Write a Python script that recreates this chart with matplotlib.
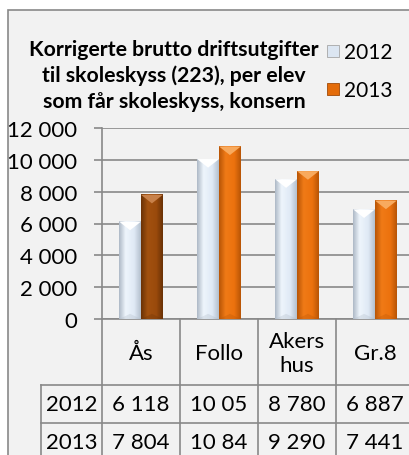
#! /usr/bin/env python3

"""Corrected gross running costs for school transport per pupil."""

import matplotlib.pyplot as plt
import numpy as np
from matplotlib.colors import LinearSegmentedColormap
from matplotlib.patches import Rectangle, Polygon

# Data
regions = ['Ås', 'Follo', 'Akers\nhus', 'Gr.8']
years = ['2012', '2013']
costs_2012 = [6118, 10050, 8780, 6887]
costs_2013 = [7804, 10840, 9290, 7441]
table_2012 = ['6 118', '10 05', '8 780', '6 887']
table_2013 = ['7 804', '10 84', '9 290', '7 441']
y_ticks = [0, 2000, 4000, 6000, 8000, 10000, 12000]

title = ('Korrigerte brutto driftsutgifter\n'
         'til skoleskyss (223), per elev\n'
         'som får skoleskyss, konsern')

FONT = ['Lato', 'DejaVu Sans']
GRID = '#898989'
BG = '#F2F2F2'
W, H = 410, 456

# side-to-side shading of each bar style: (edge, light, mid, edge)
styles = {
    'pale': ['#AEB9C6', '#EEF5FC', '#DFE9F5', '#B4C0CE'],
    'orange': ['#B85506', '#F07A16', '#EC720E', '#B85506'],
    'brown': ['#6A3206', '#A2510F', '#9A4A0C', '#6A3206'],
}
tops = {'pale': 'white', 'orange': '#F8AA5E', 'brown': '#C8814A'}


def fmt(v):
    """Format number with space as thousands separator."""
    return f'{v:,}'.replace(',', ' ')


def bevel_bar(ax, x, h, width, style):
    """Draw a shaded bar with a bevelled top."""
    cmap = LinearSegmentedColormap.from_list(
        style, list(zip([0, 0.3, 0.7, 1], styles[style])))
    grad = np.linspace(0, 1, 64).reshape(1, -1)
    ax.imshow(grad, cmap=cmap, aspect='auto', zorder=3,
              extent=(x - width / 2, x + width / 2, 0, h),
              interpolation='bilinear')
    tri_h = 0.045 * 12000
    ax.add_patch(Polygon([(x - width / 2, h), (x + width / 2, h),
                          (x, h - tri_h)],
                         closed=True, facecolor=tops[style],
                         edgecolor='none', zorder=4))
    ax.add_patch(Polygon([(x - width / 2, 0), (x + width / 2, 0),
                          (x, tri_h * 0.6)],
                         closed=True, facecolor=styles[style][0], alpha=0.3,
                         edgecolor='none', zorder=4))


plt.rcParams['font.family'] = FONT

fig = plt.figure(figsize=(W / 100, H / 100), dpi=100)
fig.patch.set_facecolor('white')

# Pixel overlay for frame, title, legend and table
bg = fig.add_axes([0, 0, 1, 1], zorder=0)
bg.set_xlim(0, W)
bg.set_ylim(H, 0)
bg.axis('off')
bg.add_patch(Rectangle((8.5, 10.5), W + 20, H + 20, facecolor=BG,
                       edgecolor=GRID, linewidth=1.2))

bg.text(174, 76, title, ha='center', va='center', fontsize=15.3,
        fontweight='bold', linespacing=1.33)

# Legend
leg_colors = [('#DCE6F2', '#A6A6A6'), ('#E46C0A', '#A04A08')]
for i, (year, (fc, ec)) in enumerate(zip(years, leg_colors)):
    yc = 52 + i * 38
    bg.add_patch(Rectangle((327, yc - 6), 12, 12, facecolor=fc,
                           edgecolor=ec, linewidth=0.6))
    bg.text(344, yc + 1, year, ha='left', va='center', fontsize=15)

# Bars
ax = fig.add_axes([102 / W, (H - 320) / H, 312 / W, 191 / H], zorder=1)
ax.set_facecolor('none')
ax.set_yticks(y_ticks)
ax.set_yticklabels([fmt(t) for t in y_ticks], fontsize=16)
ax.set_xticks([])
ax.yaxis.grid(True, color=GRID, linewidth=1.2)
ax.set_axisbelow(True)
ax.tick_params(axis='y', length=6, width=1.2, color=GRID, pad=12)
for side in ['top', 'right', 'bottom']:
    ax.spines[side].set_visible(False)
ax.spines['left'].set_color(GRID)
ax.spines['left'].set_linewidth(1.2)

bw = 0.28
for i, (a, b) in enumerate(zip(costs_2012, costs_2013)):
    bevel_bar(ax, i - bw / 2, a, bw, 'pale')
    bevel_bar(ax, i + bw / 2, b, bw, 'brown' if i == 0 else 'orange')
ax.set_xlim(-0.5, len(regions) - 0.5)
ax.set_ylim(0, 12000)

# Data table
x0, col_w, lab_x = 102, 78, 41
rows_y = [320, 386, 424, 462]
n = len(regions)
right = x0 + n * col_w
# vertical lines
bg.plot([x0, x0], [rows_y[0], H + 5], color=GRID, lw=1.2)
for i in range(1, n + 1):
    bg.plot([x0 + i * col_w] * 2, [rows_y[0], H + 5], color=GRID, lw=1.2)
bg.plot([lab_x, lab_x], [rows_y[1], H + 5], color=GRID, lw=1.2)
# horizontal lines
bg.plot([x0, right], [rows_y[0]] * 2, color=GRID, lw=1.2)
for y in rows_y[1:3]:
    bg.plot([lab_x, right], [y, y], color=GRID, lw=1.2)

for i, name in enumerate(regions):
    bg.text(x0 + (i + 0.5) * col_w, (rows_y[0] + rows_y[1]) / 2 + 1, name,
            ha='center', va='center', fontsize=16, linespacing=1.25)
for r, (year, vals) in enumerate(zip(years, [table_2012, table_2013])):
    yc = (rows_y[r + 1] + rows_y[r + 2]) / 2
    bg.text((lab_x + x0) / 2, yc, year, ha='center', va='center',
            fontsize=16)
    for i, v in enumerate(vals):
        bg.text(x0 + (i + 0.5) * col_w, yc, v, ha='center', va='center',
                fontsize=16)

fig.savefig('out.png', dpi=100)
